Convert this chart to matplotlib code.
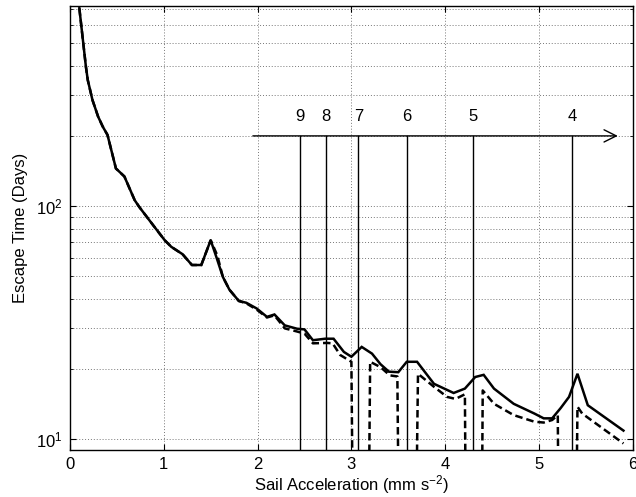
import matplotlib
matplotlib.use("Agg")
import matplotlib.pyplot as plt
from matplotlib.ticker import LogLocator, NullFormatter

plt.rcParams['font.family'] = ['Liberation Sans', 'DejaVu Sans']
plt.rcParams['mathtext.fontset'] = 'custom'
plt.rcParams['mathtext.rm'] = 'Liberation Sans'
plt.rcParams['mathtext.it'] = 'Liberation Sans:italic'
plt.rcParams['mathtext.bf'] = 'Liberation Sans:bold'
plt.rcParams['axes.unicode_minus'] = False

# Data
solid_x = [0.10, 0.17, 0.19, 0.24, 0.30, 0.35, 0.40, 0.49, 0.58, 0.69, 0.74, 0.90, 1.01, 1.08,
           1.20, 1.30, 1.40, 1.50, 1.56, 1.63, 1.70, 1.80, 1.88, 1.99, 2.10, 2.18, 2.29, 2.42,
           2.50, 2.59, 2.72, 2.81, 2.92, 3.00, 3.11, 3.22, 3.31, 3.40, 3.50, 3.59, 3.70, 3.88,
           4.09, 4.21, 4.32, 4.41, 4.52, 4.73, 4.95, 5.05, 5.14, 5.23, 5.32, 5.41, 5.52, 5.90]
solid_y = [705, 396, 347, 285, 242, 219, 202, 145, 134, 106, 99, 81.5, 71.4, 66.9,
           62.2, 55.9, 55.9, 71.4, 60.6, 49.7, 43.8, 39.2, 38.5, 36.4, 33.5, 34.3, 30.8, 29.8,
           29.6, 26.6, 27.0, 27.0, 23.7, 22.6, 24.9, 23.3, 21.0, 19.5, 19.4, 21.5, 21.5, 17.3,
           15.8, 16.5, 18.5, 18.9, 16.5, 14.2, 12.9, 12.3, 12.3, 13.6, 15.2, 19.1, 14.0, 10.9]

dashed_x = [0.10, 0.17, 0.19, 0.24, 0.30, 0.35, 0.40, 0.49, 0.58, 0.69, 0.74, 0.90, 1.01, 1.08,
            1.20, 1.30, 1.40, 1.50, 1.57, 1.63, 1.70, 1.80, 1.88, 1.99, 2.10, 2.18, 2.29, 2.42,
            2.50, 2.59, 2.74, 2.80, 2.88, 3.00, 3.03, 3.17, 3.20, 3.31, 3.41, 3.49, 3.52, 3.67,
            3.71, 3.88, 4.02, 4.11, 4.21, 4.23, 4.38, 4.40, 4.52, 4.73, 4.95, 5.05, 5.14, 5.20,
            5.22, 5.38, 5.41, 5.46, 5.90]
dashed_y = [705, 396, 347, 285, 242, 219, 202, 145, 134, 106, 99, 81.5, 71.4, 66.9,
            62.2, 55.9, 55.9, 71.4, 61.5, 49.7, 43.8, 39.2, 38.3, 36.0, 33.3, 34.0, 29.9, 29.0,
            28.4, 25.8, 25.9, 25.8, 23.0, 21.5, 1.0, 1.0, 21.5, 20.4, 18.8, 18.6, 1.0, 1.0,
            19.1, 16.8, 15.2, 14.9, 15.6, 1.0, 1.0, 16.2, 14.2, 12.7, 11.9, 11.8, 12.1, 12.7,
            1.0, 1.0, 13.8, 12.9, 9.6]

mode_labels = ['9', '8', '7', '6', '5', '4']
mode_x = [2.455, 2.73, 3.075, 3.59, 4.295, 5.355]
arrow_start = 1.95
arrow_end = 5.84
arrow_level = 200

fig = plt.figure(figsize=(6.36, 4.97), dpi=100)
ax = fig.add_axes([0.110, 0.0946, 0.885, 0.893])

ax.set_yscale('log')
ax.set_xlim(0, 6)
ax.set_ylim(9, 720)

ax.plot(solid_x, solid_y, color='black', lw=1.8, solid_joinstyle='miter')
ax.plot(dashed_x, dashed_y, color='black', lw=1.8, ls=(0, (3.0, 1.6)))

# mode lines
for lab, mx in zip(mode_labels, mode_x):
    ax.plot([mx, mx], [9, arrow_level], color='black', lw=1.0)
    ax.text(mx, 243, lab, ha='center', va='center', fontsize=12)

ax.annotate('', xy=(arrow_end, arrow_level), xytext=(arrow_start, arrow_level),
            arrowprops=dict(arrowstyle='->', color='black', lw=1.0,
                            mutation_scale=22, shrinkA=0, shrinkB=0))

ax.set_xticks([0, 1, 2, 3, 4, 5, 6])
ax.yaxis.set_major_locator(LogLocator(base=10))
ax.yaxis.set_minor_locator(LogLocator(base=10, subs=range(2, 10)))
ax.yaxis.set_minor_formatter(NullFormatter())

ax.grid(True, which='major', axis='both', ls=(0, (1, 2)), color='#777777', lw=0.7)
ax.grid(True, which='minor', axis='y', ls=(0, (1, 2)), color='#777777', lw=0.7)

ax.tick_params(which='both', direction='in', top=True, right=True, labelsize=12)
ax.tick_params(which='major', length=4, pad=5)
ax.tick_params(which='minor', length=2)
for s in ax.spines.values():
    s.set_linewidth(1.0)

ax.set_xlabel('Sail Acceleration (mm s$^{-2}$)', fontsize=12, labelpad=1)
ax.set_ylabel('Escape Time (Days)', fontsize=12, labelpad=6)

fig.savefig('out.png', dpi=100)
